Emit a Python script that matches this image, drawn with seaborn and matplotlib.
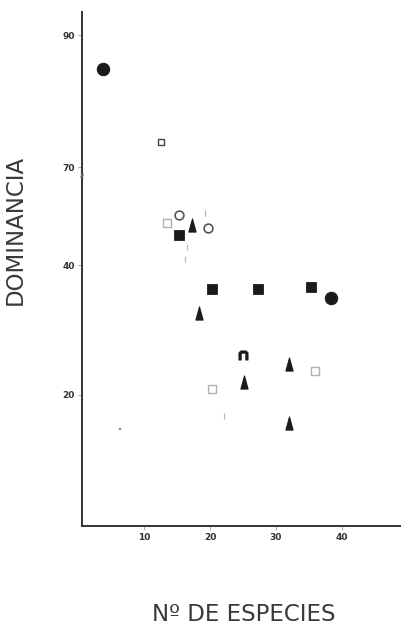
import numpy as np
import matplotlib
matplotlib.use("Agg")
import matplotlib.pyplot as plt
from matplotlib.path import Path
import seaborn as sns

# --- data: número de especies vs. dominancia, grouped by symbol ---
circ_fill_x = [3.8, 38.3]
circ_fill_y = [84.8, 35.0]

sq_open_x = [12.6]
sq_open_y = [73.8]

sq_fill_x = [15.3, 20.3, 27.3, 35.3]
sq_fill_y = [49.2, 36.4, 36.4, 36.6]

tri_fill_x = [17.3, 18.3, 25.2, 32.0, 32.0]
tri_fill_y = [52.2, 32.6, 21.9, 24.8, 15.7]

circ_open_x = [15.3, 19.7]
circ_open_y = [55.3, 51.3]

arch_x = [25.0]
arch_y = [26.1]

sq_faint_x = [35.9, 20.3, 13.5]
sq_faint_y = [23.7, 20.9, 53.1]

mark_faint_x = [22.1, 16.5, 16.2, 19.2]
mark_faint_y = [16.8, 45.5, 42.1, 55.9]

dot_x = [6.4]
dot_y = [14.7]

x_ticks = [10, 20, 30, 40]
y_ticks = [20, 40, 70, 90]

# broken dominance axis: the 40-70 stretch is compressed
y_vals = np.array([-50, 0, 20, 40, 70, 90, 200])
y_pos = np.array([-327, 0, 131, 260, 358, 490, 1216], dtype=float)


def fwd(v):
    return np.interp(v, y_vals, y_pos)


def inv(p):
    return np.interp(p, y_pos, y_vals)


sns.set_theme(style="white")
plt.rcParams["font.family"] = ["DejaVu Sans"]

fig = plt.figure(figsize=(4.06, 6.26), dpi=100)
ax = fig.add_axes([0.202, 0.16, 0.783, 0.821])
ax.set_yscale("function", functions=(fwd, inv))

ink = "#1a1a1a"
tri = Path([(-0.55, -1), (0.55, -1), (0, 1), (-0.55, -1)],
           [Path.MOVETO, Path.LINETO, Path.LINETO, Path.CLOSEPOLY])
arch = Path([(-1, -1), (-1, 0.6), (-0.6, 1), (0.6, 1), (1, 0.6), (1, -1),
             (0.45, -1), (0.45, 0.45), (-0.45, 0.45), (-0.45, -1), (-1, -1)],
            [Path.MOVETO] + [Path.LINETO] * 9 + [Path.CLOSEPOLY])

sns.scatterplot(x=circ_fill_x, y=circ_fill_y, marker="o", s=80, color=ink,
                edgecolor=ink, ax=ax)
sns.scatterplot(x=sq_open_x, y=sq_open_y, marker="s", s=22, facecolor="white",
                edgecolor="#444444", linewidth=1.0, ax=ax)
sns.scatterplot(x=sq_fill_x, y=sq_fill_y, marker="s", s=55, color=ink,
                edgecolor=ink, ax=ax)
sns.scatterplot(x=tri_fill_x, y=tri_fill_y, marker=tri, s=90, color=ink,
                edgecolor=ink, ax=ax)
sns.scatterplot(x=circ_open_x, y=circ_open_y, marker="o", s=40,
                facecolor="white", edgecolor="#555555", linewidth=1.2, ax=ax)
sns.scatterplot(x=arch_x, y=arch_y, marker=arch, s=45, color=ink,
                edgecolor=ink, linewidth=0.4, ax=ax)
sns.scatterplot(x=sq_faint_x, y=sq_faint_y, marker="s", s=28,
                facecolor="white", edgecolor="#b0b0b0", linewidth=1.0, ax=ax)
sns.scatterplot(x=mark_faint_x, y=mark_faint_y, marker="|", s=18,
                color="#b8b8b8", linewidth=0.9, ax=ax)
sns.scatterplot(x=dot_x, y=dot_y, marker="s", s=4, color="#888888",
                edgecolor="#888888", ax=ax)

ax.set_xlim(0.6, 48.8)
ax.set_ylim(0, 93.5)
ax.set_xticks(x_ticks)
ax.set_yticks(y_ticks)
ax.set_xticklabels([str(t) for t in x_ticks], fontsize=6.5,
                   fontweight="bold", color="#333333")
ax.set_yticklabels([str(t) for t in y_ticks], fontsize=6.5,
                   fontweight="bold", color="#333333")
ax.minorticks_off()
ax.tick_params(axis="both", which="major", direction="out", length=3,
               width=0.6, color="#999999", pad=2, left=True, bottom=True)

sns.despine(ax=ax)
for side in ("left", "bottom"):
    ax.spines[side].set_color("#333333")
    ax.spines[side].set_linewidth(1.4)

# axis break mark on the dominance axis
ax.text(0.6, 68.0, "\u2248", rotation=90, fontsize=7, color="#888888",
        ha="center", va="center", clip_on=False)

fig.text(0.037, 0.632, "DOMINANCIA", rotation=90, fontsize=16.5,
         color="#3a3a3a", ha="center", va="center")
fig.text(0.60, 0.018, "N\u00ba DE ESPECIES", fontsize=16.5,
         color="#3a3a3a", ha="center", va="center")

fig.savefig("out.png", dpi=100, facecolor="white")
